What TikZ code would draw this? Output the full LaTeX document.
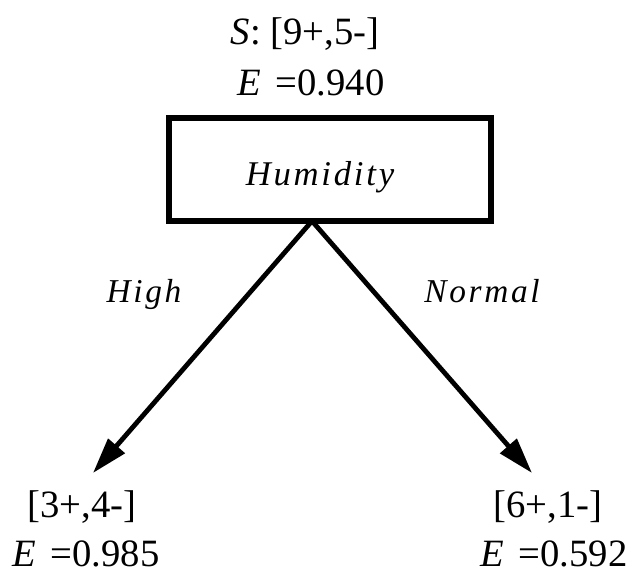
\documentclass[tikz,border=0pt]{standalone}
\usepackage{fontspec}
\setmainfont{Liberation Serif}
\newfontfamily\branchfont[LetterSpace=8]{Liberation Serif}
\usetikzlibrary{arrows.meta}
\begin{document}
\begin{tikzpicture}[x=0.75pt,y=-0.75pt,
  txt/.style={inner sep=0pt, anchor=base, font=\fontsize{29}{32}\selectfont},
  lbl/.style={inner sep=0pt, anchor=base, font=\fontsize{25}{30}\selectfont\branchfont\itshape},
  attrbox/.style={draw, line width=3.8pt, minimum width=322*0.75pt, minimum height=103*0.75pt, inner sep=0pt},
  branch/.style={line width=3.6pt, -{Triangle[length=27pt,width=16pt]}}]
\useasboundingbox (0,0) rectangle (629,576);
\node[txt] (s) at (305,44) {\textit{S}: [9+,5-]};
\node[txt] (es) at (311,95) {\textit{E}\hspace{0.12em} =0.940};
\node[attrbox] (hum) at (330,169.5) {};
\node[lbl, font=\fontsize{26}{30}\selectfont\branchfont\itshape] (humtxt) at (320,185) {Humidity};
\coordinate (apex) at (312,221);
\coordinate (tipL) at (93,473);
\coordinate (tipR) at (532,473);
\draw[branch] (apex) -- (tipL);
\draw[branch] (apex) -- (tipR);
\node[lbl] (high) at (144,302) {High};
\node[lbl] (normal) at (482,302) {Normal};
\node[txt] (l1) at (82,517) {[3+,4-]};
\node[txt] (l2) at (86,566) {\textit{E}\hspace{0.12em} =0.985};
\node[txt] (r1) at (548,517) {[6+,1-]};
\node[txt] (r2) at (554,566) {\textit{E}\hspace{0.12em} =0.592};
\end{tikzpicture}
\end{document}
